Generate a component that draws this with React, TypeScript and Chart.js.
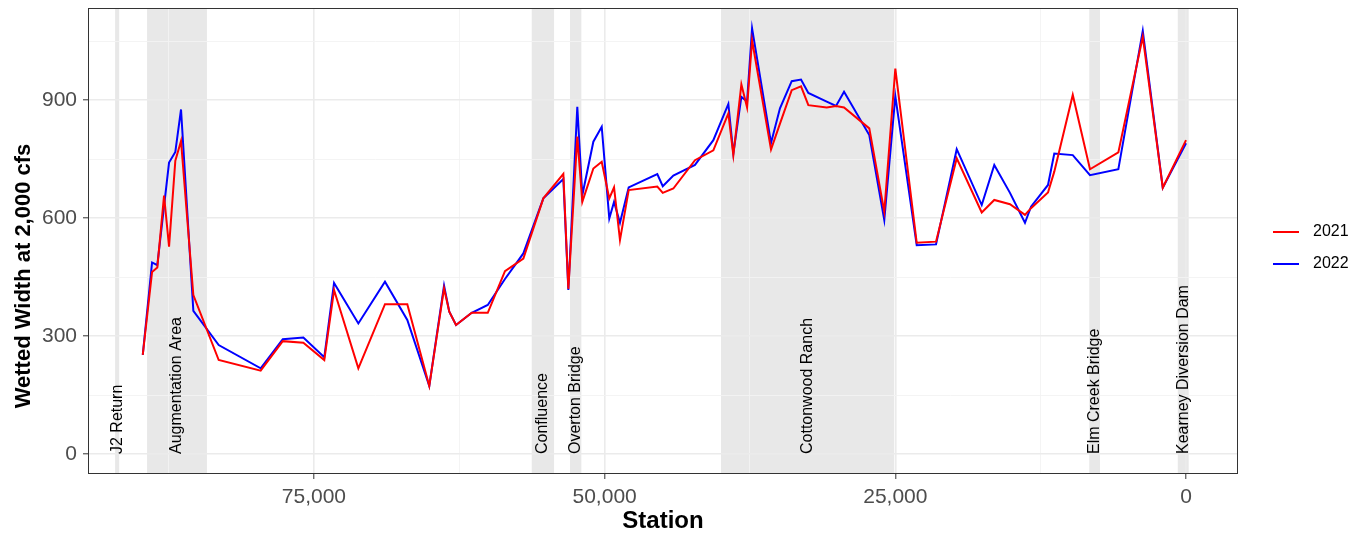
import { useEffect, useRef } from 'react';
import { Chart, registerables } from 'chart.js';

Chart.register(...registerables);

const FONT = '"Liberation Sans", Arial, Helvetica, sans-serif';

// River stations (ft upstream of Kearney Diversion Dam) shared by both surveys
const stations = [
  89720, 88920, 88470, 87890, 87460, 86920, 86430, 85370, 83190, 79580,
  77680, 75910, 74110, 73270, 71180, 68890, 66970, 65080, 63810, 63360,
  62780, 61430, 60050, 58570, 56990, 55270, 53550, 53120, 52350, 51920,
  50970, 50250, 49600, 49190, 48680, 47930, 45470, 45000, 44090, 42230,
  40650, 39360, 38930, 38240, 37750, 37320, 35690, 34920, 33910, 33110,
  32480, 30900, 30100, 29410, 27240, 25950, 25000, 23160, 21500, 19720,
  17570, 16490, 15140, 13850, 13330, 11870, 11330, 9740, 8260, 5820,
  3720, 2000, 0,
];

// Wetted width (ft) at 2,000 cfs, 2021 survey
const width2021 = [
  252, 463, 474, 657, 527, 746, 796, 404, 239, 212,
  287, 283, 239, 417, 218, 381, 381, 173, 421, 362,
  328, 359, 359, 465, 497, 650, 712, 420, 807, 641,
  726, 743, 650, 678, 544, 671, 680, 664, 675, 747,
  772, 866, 760, 940, 881, 1052, 774, 840, 925, 935,
  887, 881, 885, 881, 828, 616, 980, 537, 540, 752,
  614, 646, 635, 608, 625, 665, 718, 913, 724, 767,
  1061, 677, 798,
];

// Wetted width (ft) at 2,000 cfs, 2022 survey
const width2022 = [
  252, 487, 480, 630, 741, 768, 876, 364, 277, 218,
  292, 296, 246, 435, 332, 438, 341, 173, 428, 362,
  328, 359, 379, 445, 510, 650, 699, 417, 883, 658,
  794, 832, 599, 641, 588, 678, 712, 681, 708, 735,
  798, 890, 764, 908, 896, 1082, 791, 879, 948, 952,
  918, 896, 885, 921, 811, 595, 910, 531, 533, 775,
  633, 735, 664, 588, 629, 684, 764, 760, 709, 724,
  1076, 677, 790,
];

// Named river reaches / landmarks shaded behind the data
const regionNames = [
  'J2 Return', 'Augmentation Area', 'Confluence', 'Overton Bridge',
  'Cottonwood Ranch', 'Elm Creek Bridge', 'Kearney Diversion Dam',
];
const regionFrom = [92100, 89350, 56270, 52980, 39990, 8320, 710];
const regionTo = [91750, 84200, 54350, 52000, 25090, 7400, -230];

const xTickValues = [0, 12500, 25000, 37500, 50000, 62500, 75000, 87500];
const yTickValues = [0, 150, 300, 450, 600, 750, 900, 1050];

const seriesNames = ['2021', '2022'];
const seriesColors = ['#ff0000', '#0000ff'];

const isMajorX = (v: number) => v % 25000 === 0;
const isMajorY = (v: number) => v % 300 === 0;

const decorations = {
  id: 'decorations',
  beforeDraw(chart: any) {
    const { ctx, chartArea: a, scales } = chart;
    const x = scales.x;
    ctx.save();
    ctx.beginPath();
    ctx.rect(a.left, a.top, a.right - a.left, a.bottom - a.top);
    ctx.clip();
    ctx.fillStyle = '#e8e8e8';
    regionNames.forEach((_, i) => {
      const x1 = x.getPixelForValue(regionFrom[i]);
      const x2 = x.getPixelForValue(regionTo[i]);
      ctx.fillRect(Math.min(x1, x2), a.top, Math.abs(x2 - x1), a.bottom - a.top);
    });
    ctx.restore();
  },
  beforeDatasetsDraw(chart: any) {
    const { ctx, scales } = chart;
    const x = scales.x;
    const y = scales.y;
    const y0 = y.getPixelForValue(0);
    ctx.save();
    ctx.fillStyle = '#000000';
    ctx.font = `16px ${FONT}`;
    ctx.textAlign = 'left';
    ctx.textBaseline = 'middle';
    regionNames.forEach((name, i) => {
      const cx = (x.getPixelForValue(regionFrom[i]) + x.getPixelForValue(regionTo[i])) / 2;
      ctx.save();
      ctx.translate(cx, y0);
      ctx.rotate(-Math.PI / 2);
      ctx.fillText(name, 0, 0);
      ctx.restore();
    });
    ctx.restore();
  },
  afterDraw(chart: any) {
    const { ctx, chartArea: a } = chart;
    ctx.save();
    // panel border
    ctx.strokeStyle = '#333333';
    ctx.lineWidth = 1;
    ctx.strokeRect(a.left + 0.5, a.top + 0.5, a.right - a.left - 1, a.bottom - a.top - 1);

    // axis titles
    ctx.fillStyle = '#000000';
    ctx.textAlign = 'center';
    ctx.textBaseline = 'middle';
    ctx.font = `bold 24px ${FONT}`;
    ctx.fillText('Station', (a.left + a.right) / 2, 521);
    ctx.font = `bold 22px ${FONT}`;
    ctx.save();
    ctx.translate(24, 276);
    ctx.rotate(-Math.PI / 2);
    ctx.fillText('Wetted Width at 2,000 cfs', 0, 0);
    ctx.restore();

    // legend
    const legendMid = (a.top + a.bottom) / 2 + 7;
    ctx.font = `16px ${FONT}`;
    ctx.textAlign = 'left';
    seriesNames.forEach((name, i) => {
      const yy = legendMid - 16 + i * 32;
      ctx.strokeStyle = seriesColors[i];
      ctx.lineWidth = 2;
      ctx.beginPath();
      ctx.moveTo(a.right + 35, yy);
      ctx.lineTo(a.right + 61, yy);
      ctx.stroke();
      ctx.fillStyle = '#000000';
      ctx.fillText(name, a.right + 75, yy);
    });
    ctx.restore();
  },
};

export default function App() {
  const canvasRef = useRef<HTMLCanvasElement | null>(null);

  useEffect(() => {
    document.body.style.margin = '0';
    const canvas = canvasRef.current;
    if (!canvas) return;

    const chart = new Chart(canvas, {
      type: 'line',
      data: {
        datasets: [width2021, width2022].map((vals, k) => ({
          label: seriesNames[k],
          data: stations.map((s, i) => ({ x: s, y: vals[i] })),
          borderColor: seriesColors[k],
          backgroundColor: seriesColors[k],
          borderWidth: 2,
          pointRadius: 0,
          tension: 0,
          fill: false,
        })),
      },
      options: {
        animation: false,
        responsive: true,
        maintainAspectRatio: false,
        layout: { padding: { left: 0, right: 124, top: 8, bottom: 0 } },
        plugins: {
          legend: { display: false },
          tooltip: { enabled: false },
        },
        scales: {
          x: {
            type: 'linear',
            reverse: true,
            min: -4470,
            max: 94430,
            afterBuildTicks: (s: any) => {
              s.ticks = xTickValues.map((v) => ({ value: v }));
            },
            afterFit: (s: any) => {
              s.height = 63;
              s.paddingLeft = 0;
              s.paddingRight = 0;
            },
            border: { display: false },
            grid: {
              color: (c: any) => (isMajorX(c.tick.value) ? '#ebebeb' : '#f3f3f3'),
              lineWidth: (c: any) => (isMajorX(c.tick.value) ? 1.6 : 0.9),
              tickColor: (c: any) => (isMajorX(c.tick.value) ? '#333333' : 'rgba(0,0,0,0)'),
              tickLength: 5,
              tickWidth: 1,
            },
            ticks: {
              autoSkip: false,
              maxRotation: 0,
              padding: 6,
              color: '#4d4d4d',
              font: { family: FONT, size: 21 },
              callback: (v: any) => (isMajorX(Number(v)) ? Number(v).toLocaleString('en-US') : ''),
            },
          },
          y: {
            type: 'linear',
            min: -50.8,
            max: 1134,
            afterBuildTicks: (s: any) => {
              s.ticks = yTickValues.map((v) => ({ value: v }));
            },
            afterFit: (s: any) => {
              s.width = 88;
              s.paddingTop = 0;
              s.paddingBottom = 0;
            },
            border: { display: false },
            grid: {
              color: (c: any) => (isMajorY(c.tick.value) ? '#ebebeb' : '#f3f3f3'),
              lineWidth: (c: any) => (isMajorY(c.tick.value) ? 1.6 : 0.9),
              tickColor: (c: any) => (isMajorY(c.tick.value) ? '#333333' : 'rgba(0,0,0,0)'),
              tickLength: 5,
              tickWidth: 1,
            },
            ticks: {
              autoSkip: false,
              padding: 6,
              color: '#4d4d4d',
              font: { family: FONT, size: 21 },
              callback: (v: any) => (isMajorY(Number(v)) ? String(v) : ''),
            },
          },
        },
      },
      plugins: [decorations],
    });

    return () => chart.destroy();
  }, []);

  return (
    <div style={{ position: 'relative', width: 1362, height: 537 }}>
      <canvas ref={canvasRef} />
    </div>
  );
}
